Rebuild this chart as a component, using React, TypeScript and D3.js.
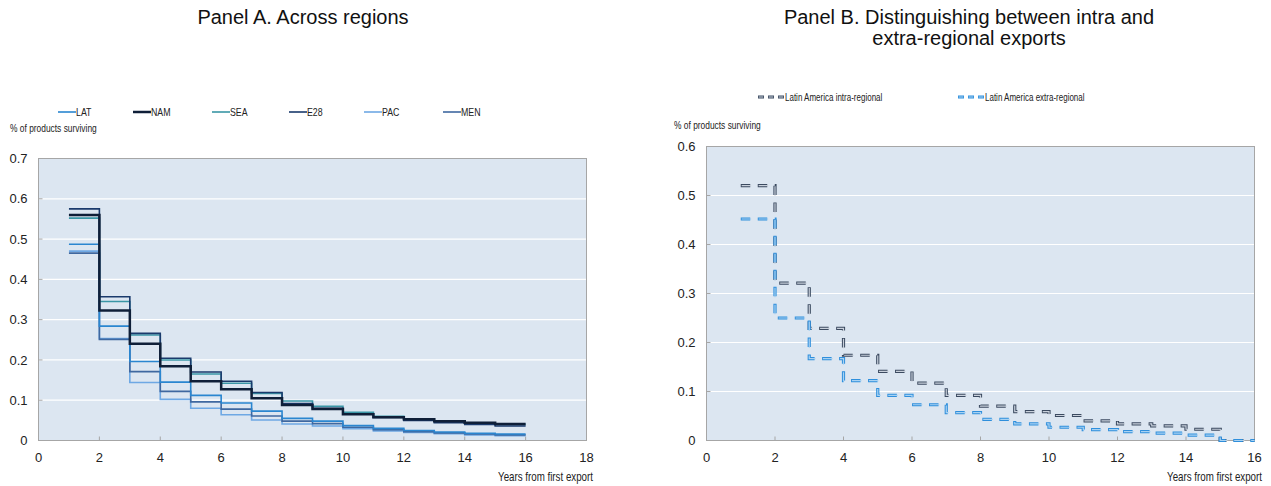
import React from "react";
import * as d3 from "d3";

const years = [1, 2, 3, 4, 5, 6, 7, 8, 9, 10, 11, 12, 13, 14, 15, 16];

const seriesNames = ["LAT", "NAM", "SEA", "E28", "PAC", "MEN"];
const LAT = [0.487, 0.284, 0.196, 0.145, 0.112, 0.093, 0.073, 0.055, 0.048, 0.037, 0.030, 0.025, 0.021, 0.018, 0.016];
const NAM = [0.560, 0.323, 0.240, 0.184, 0.147, 0.127, 0.105, 0.088, 0.078, 0.065, 0.058, 0.053, 0.048, 0.044, 0.041];
const SEA = [0.552, 0.345, 0.262, 0.200, 0.165, 0.142, 0.117, 0.098, 0.085, 0.070, 0.060, 0.054, 0.048, 0.044, 0.040];
const E28 = [0.575, 0.357, 0.266, 0.204, 0.170, 0.147, 0.119, 0.092, 0.080, 0.066, 0.057, 0.050, 0.044, 0.040, 0.036];
const PAC = [0.470, 0.253, 0.144, 0.102, 0.080, 0.064, 0.051, 0.041, 0.036, 0.029, 0.024, 0.020, 0.017, 0.014, 0.012];
const MEN = [0.465, 0.251, 0.171, 0.122, 0.096, 0.078, 0.061, 0.048, 0.042, 0.033, 0.027, 0.022, 0.019, 0.016, 0.014];

const intraNames = ["Latin America intra-regional", "Latin America extra-regional"];
const INTRA = [0.520, 0.321, 0.229, 0.174, 0.141, 0.117, 0.092, 0.070, 0.059, 0.051, 0.040, 0.034, 0.030, 0.023, 0.0];
const EXTRA = [0.452, 0.250, 0.167, 0.122, 0.092, 0.073, 0.057, 0.043, 0.034, 0.027, 0.022, 0.018, 0.015, 0.011, 0.0];

const xTicksA = [0, 2, 4, 6, 8, 10, 12, 14, 16, 18];
const yTicksA = [0, 0.1, 0.2, 0.3, 0.4, 0.5, 0.6, 0.7];
const xTicksB = [0, 2, 4, 6, 8, 10, 12, 14, 16];
const yTicksB = [0, 0.1, 0.2, 0.3, 0.4, 0.5, 0.6];

const COLORS: Record<string, string> = {
  LAT: "#2a86d0",
  NAM: "#0f1f38",
  SEA: "#3a96a6",
  E28: "#1a3a6c",
  PAC: "#6ea8e4",
  MEN: "#3f68a0",
};

const FONT = "'Liberation Sans', Arial, sans-serif";
const BG = "#dce6f1";
const AXIS = "#a6a6a6";

function toPoints(vals: number[]) {
  const pts = vals.map((v, i) => [years[i], v] as [number, number]);
  pts.push([years[vals.length], vals[vals.length - 1]]);
  return pts;
}

function NarrowText({ x, y, size, anchor, children }: any) {
  return (
    <text
      transform={`translate(${x},${y}) scale(0.8,1)`}
      dy="0.36em"
      textAnchor={anchor || "start"}
      fontSize={size}
      fontFamily={FONT}
      fill="#222"
    >
      {children}
    </text>
  );
}

function Frame({ x, y, xTicks, yTicks, fmtY }: any) {
  const [x0, x1] = x.range();
  const [y0, y1] = y.range();
  return (
    <g>
      <rect x={x0} y={y1} width={x1 - x0} height={y0 - y1} fill={BG} />
      {yTicks.slice(1, -1).map((t: number) => (
        <line key={"g" + t} x1={x0} x2={x1} y1={y(t)} y2={y(t)} stroke="#fff" strokeWidth={1.2} />
      ))}
      {yTicks.slice(1, -1).map((t: number) => (
        <line key={"yt" + t} x1={x0} x2={x0 + 4} y1={y(t)} y2={y(t)} stroke={AXIS} strokeWidth={1} />
      ))}
      {xTicks.slice(1, -1).map((t: number) => (
        <line key={"xt" + t} x1={x(t)} x2={x(t)} y1={y0} y2={y0 - 4} stroke={AXIS} strokeWidth={1} />
      ))}
      <rect x={x0} y={y1} width={x1 - x0} height={y0 - y1} fill="none" stroke={AXIS} strokeWidth={1} />
      {yTicks.map((t: number) => (
        <text key={"yl" + t} x={x0 - 11} y={y(t)} dy="0.36em" textAnchor="end" fontSize={13} fontFamily={FONT} fill="#222">
          {fmtY(t)}
        </text>
      ))}
      {xTicks.map((t: number) => (
        <text key={"xl" + t} x={x(t)} y={y0 + 17} dy="0.36em" textAnchor="middle" fontSize={13} fontFamily={FONT} fill="#222">
          {t}
        </text>
      ))}
    </g>
  );
}

const fmt = (t: number) => (t === 0 ? "0" : d3.format(".1f")(t));

export default function App() {
  // Panel A
  const xA = d3.scaleLinear().domain([0, 18]).range([38.5, 586.5]);
  const yA = d3.scaleLinear().domain([0, 0.7]).range([440.5, 158.5]);
  const lineA = d3
    .line<[number, number]>()
    .x((d) => xA(d[0]))
    .y((d) => yA(d[1]))
    .curve(d3.curveStepAfter);
  const dataA: Record<string, number[]> = { LAT, NAM, SEA, E28, PAC, MEN };
  const drawOrder = ["PAC", "MEN", "LAT", "SEA", "E28", "NAM"];
  const legendX = [58, 133, 212, 289, 364, 443];
  const legendA = seriesNames.map((name, i) => ({ name, x: legendX[i] }));

  // Panel B
  const xB = d3.scaleLinear().domain([0, 16]).range([706.5, 1254.5]);
  const yB = d3.scaleLinear().domain([0, 0.6]).range([440.5, 146.5]);
  const lineB = d3
    .line<[number, number]>()
    .x((d) => xB(d[0]))
    .y((d) => yB(d[1]))
    .curve(d3.curveStepAfter);
  const dashStyles = [
    { name: intraNames[0], vals: INTRA, outer: "#3b4a60", inner: "#c9d1dc", lx: 758 },
    { name: intraNames[1], vals: EXTRA, outer: "#2f8fdc", inner: "#a9d2f2", lx: 958 },
  ];

  return (
    <svg width={1271} height={486} style={{ position: "absolute", left: 0, top: 0 }} xmlns="http://www.w3.org/2000/svg">
      <rect width={1271} height={486} fill="#fff" />
      {/* Titles */}
      <text x={303} y={24} textAnchor="middle" fontSize={20} fontFamily={FONT} fill="#111">
        Panel A. Across regions
      </text>
      <text x={969} y={24} textAnchor="middle" fontSize={20} fontFamily={FONT} fill="#111">
        Panel B. Distinguishing between intra and
      </text>
      <text x={969} y={45} textAnchor="middle" fontSize={20} fontFamily={FONT} fill="#111">
        extra-regional exports
      </text>

      {/* Panel A legend */}
      {legendA.map((l) => (
        <g key={l.name}>
          <line x1={l.x} x2={l.x + 18} y1={112} y2={112} stroke={COLORS[l.name]} strokeWidth={l.name === "NAM" ? 2.5 : 1.6} />
          <NarrowText x={l.x + 18} y={112} size={11}>
            {l.name}
          </NarrowText>
        </g>
      ))}
      <NarrowText x={10} y={128.5} size={10.5}>
        % of products surviving
      </NarrowText>

      <Frame x={xA} y={yA} xTicks={xTicksA} yTicks={yTicksA} fmtY={fmt} />
      {drawOrder.map((n) => (
        <path key={n} d={lineA(toPoints(dataA[n])) || ""} fill="none" stroke={COLORS[n]} strokeWidth={n === "NAM" ? 2.5 : 1.6} />
      ))}
      <NarrowText x={593} y={477} size={12.2} anchor="end">
        Years from first export
      </NarrowText>

      {/* Panel B legend */}
      {dashStyles.map((s) => (
        <g key={s.name}>
          <line x1={s.lx} x2={s.lx + 26} y1={97} y2={97} stroke={s.outer} strokeWidth={3.2} strokeDasharray="6 4" />
          <line x1={s.lx + 0.8} x2={s.lx + 26} y1={97} y2={97} stroke={s.inner} strokeWidth={1.2} strokeDasharray="4.4 5.6" />
          <NarrowText x={s.lx + 27} y={97} size={10}>
            {s.name}
          </NarrowText>
        </g>
      ))}
      <NarrowText x={674} y={125} size={10.5}>
        % of products surviving
      </NarrowText>

      <Frame x={xB} y={yB} xTicks={xTicksB} yTicks={yTicksB} fmtY={fmt} />
      {dashStyles.map((s) => {
        const d = lineB(toPoints(s.vals)) || "";
        return (
          <g key={s.name}>
            <path d={d} fill="none" stroke={s.outer} strokeWidth={3.2} strokeDasharray="9.5 7.5" />
            <path d={d} fill="none" stroke={s.inner} strokeWidth={1.2} strokeDasharray="9.5 7.5" strokeDashoffset={-0.9} />
          </g>
        );
      })}
      <NarrowText x={1262} y={477} size={12.2} anchor="end">
        Years from first export
      </NarrowText>
    </svg>
  );
}
